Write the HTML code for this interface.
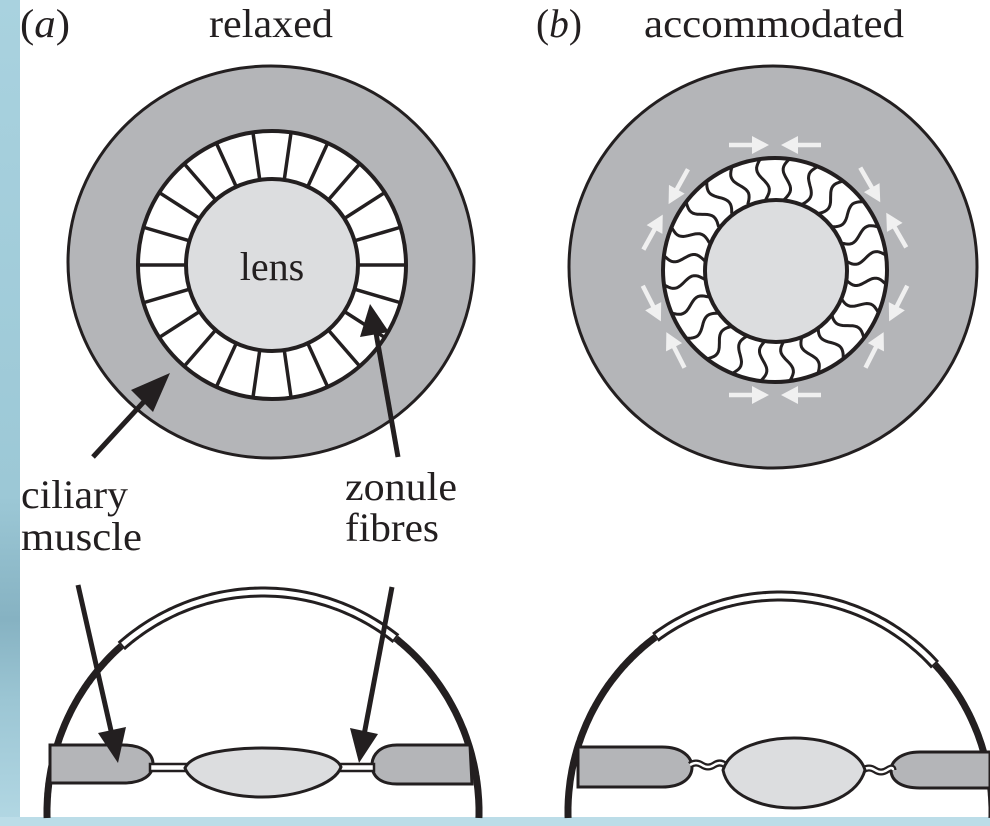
<!DOCTYPE html>
<html><head><meta charset="utf-8">
<style>
html,body{margin:0;padding:0;background:#fff;}
svg{display:block;}
text{font-family:"Liberation Serif",serif;fill:#231f20;}
</style></head>
<body>
<svg id="s" width="990" height="826" viewBox="0 0 990 826" xmlns="http://www.w3.org/2000/svg">
<defs>
<linearGradient id="lg" x1="0" y1="0" x2="0" y2="1">
<stop offset="0" stop-color="#a9d2df"/><stop offset="0.6" stop-color="#9cc8d6"/><stop offset="0.75" stop-color="#86b2c2"/><stop offset="0.85" stop-color="#9cc6d4"/><stop offset="1" stop-color="#b3d8e4"/>
</linearGradient>
</defs>
<rect x="0" y="0" width="990" height="826" fill="#fff"/>
<rect x="0" y="0" width="20" height="826" fill="url(#lg)"/>
<rect x="0" y="817" width="990" height="9" fill="#bcdde8"/>

<text x="20" y="37" font-size="40" textLength="50" lengthAdjust="spacingAndGlyphs">(<tspan font-style="italic">a</tspan>)</text>
<text x="209" y="37" font-size="40" textLength="124" lengthAdjust="spacingAndGlyphs">relaxed</text>
<text x="536" y="37" font-size="40" textLength="46" lengthAdjust="spacingAndGlyphs">(<tspan font-style="italic">b</tspan>)</text>
<text x="644" y="37" font-size="40" textLength="260" lengthAdjust="spacingAndGlyphs">accommodated</text>

<!-- panel a top -->
<ellipse cx="271" cy="262" rx="203" ry="196" fill="#b4b5b8" stroke="#231f20" stroke-width="3"/>
<circle cx="272" cy="265" r="134" fill="#fff" stroke="#231f20" stroke-width="4"/>
<g id="spokes"></g>
<circle cx="272" cy="265" r="86" fill="#dcdddf" stroke="#231f20" stroke-width="4"/>
<text x="272" y="280" font-size="40" text-anchor="middle">lens</text>

<!-- panel b top -->
<ellipse cx="773" cy="267" rx="204" ry="201" fill="#b4b5b8" stroke="#231f20" stroke-width="3"/>
<circle cx="775" cy="270" r="112" fill="#fff" stroke="#231f20" stroke-width="4"/>
<g id="waves"></g>
<circle cx="776" cy="271" r="71" fill="#dcdddf" stroke="#231f20" stroke-width="4"/>
<g id="warrows"></g>

<!-- arrows top a -->
<g stroke="#231f20" stroke-width="5" fill="#231f20">
<line x1="93" y1="457" x2="150" y2="395"/>
<polygon points="170,373 131,390 153,412" stroke="none"/>
<line x1="398" y1="457" x2="376" y2="333"/>
<polygon points="370,304 360,337 389,332" stroke="none"/>
</g>

<text x="21" y="508" font-size="40" textLength="107" lengthAdjust="spacingAndGlyphs">ciliary</text>
<text x="21" y="550" font-size="40" textLength="121" lengthAdjust="spacingAndGlyphs">muscle</text>
<text x="345" y="500" font-size="40" textLength="112" lengthAdjust="spacingAndGlyphs">zonule</text>
<text x="345" y="541" font-size="40" textLength="94" lengthAdjust="spacingAndGlyphs">fibres</text>

<!-- bottom a -->
<g id="domeA"></g>
<path d="M50,745 L123,745 C143,745 153,754 153,764 C153,775 143,783 123,783 L50,783 Z" fill="#b4b5b8" stroke="#231f20" stroke-width="3"/>
<path d="M470,745 L397,745 C380,745 372,755 372,765 C372,776 380,784 397,784 L472,784 Z" fill="#b4b5b8" stroke="#231f20" stroke-width="3"/>
<rect x="150" y="764" width="37" height="7" fill="#fff" stroke="#231f20" stroke-width="2.5"/>
<rect x="338" y="764" width="36" height="7" fill="#fff" stroke="#231f20" stroke-width="2.5"/>
<path d="M185,768 C192,752 235,748 262,748 C300,748 336,753 341,767 C335,785 295,797 262,797 C225,797 190,784 185,768 Z" fill="#dcdddf" stroke="#231f20" stroke-width="3"/>
<g stroke="#231f20" stroke-width="5" fill="#231f20">
<line x1="78" y1="585" x2="112" y2="735"/>
<polygon points="118,763 98,733 126,727" stroke="none"/>
<line x1="392" y1="587" x2="364" y2="735"/>
<polygon points="359,763 350,728 378,734" stroke="none"/>
</g>

<!-- bottom b -->
<g id="domeB"></g>
<path d="M578,747 L662,747 C682,747 692,757 692,767 C692,778 682,787 662,787 L578,787 Z" fill="#b4b5b8" stroke="#231f20" stroke-width="3"/>
<path d="M990,752 L920,752 C900,752 891,762 891,770 C891,780 900,788 920,788 L990,788 Z" fill="#b4b5b8" stroke="#231f20" stroke-width="3"/>
<path d="M690,765 q6,-4 12,0 t12,0 t11,0" fill="none" stroke="#231f20" stroke-width="7"/>
<path d="M690,765 q6,-4 12,0 t12,0 t11,0" fill="none" stroke="#fff" stroke-width="2.5"/>
<path d="M863,770 q6,-4 12,0 t12,0 t6,0" fill="none" stroke="#231f20" stroke-width="7"/>
<path d="M863,770 q6,-4 12,0 t12,0 t6,0" fill="none" stroke="#fff" stroke-width="2.5"/>
<path d="M723,770 C730,747 765,738 794,738 C830,738 860,752 865,770 C858,795 825,808 794,808 C760,808 728,795 723,770 Z" fill="#dcdddf" stroke="#231f20" stroke-width="3"/>
</svg>
<script>
var NS="http://www.w3.org/2000/svg";
function el(p,t,a){var e=document.createElementNS(NS,t);for(var k in a)e.setAttribute(k,a[k]);p.appendChild(e);return e;}
var g=document.getElementById("spokes");
for(var i=0;i<22;i++){var a=i*2*Math.PI/22;var c=Math.cos(a),s=Math.sin(a);
el(g,"line",{x1:272+86*c,y1:265+86*s,x2:272+134*c,y2:265+134*s,stroke:"#231f20","stroke-width":3.5});}
g=document.getElementById("waves");
for(var i=0;i<24;i++){var a=i*2*Math.PI/24+0.13;var c=Math.cos(a),s=Math.sin(a);var tx=-s,ty=c;var d="";
for(var j=0;j<=20;j++){var t=j/20;var r=71+41*t;var o=5*Math.sin(t*2*Math.PI);var x=775+r*c+o*tx,y=270+r*s+o*ty;d+=(j?"L":"M")+x.toFixed(1)+","+y.toFixed(1);}
el(g,"path",{d:d,fill:"none",stroke:"#231f20","stroke-width":3});}
g=document.getElementById("warrows");
var centers=[-90,90,-151,153,-30,27];
centers.forEach(function(cd){
var ca=cd*Math.PI/180;var R=125;var cx=775+R*Math.cos(ca),cy=270+R*Math.sin(ca);
var ux=-Math.sin(ca),uy=Math.cos(ca);
[-1,1].forEach(function(sg){
// arrow located at side sg, pointing toward center
var dx=-sg*ux,dy=-sg*uy;
var tipx=cx+sg*ux*6,tipy=cy+sg*uy*6;
var tailx=tipx-dx*40,taily=tipy-dy*40;
el(g,"line",{x1:tailx,y1:taily,x2:tipx-dx*12,y2:tipy-dy*12,stroke:"#f0f0f0","stroke-width":4.5});
var nx=-dy,ny=dx;
el(g,"polygon",{points:tipx+","+tipy+" "+(tipx-dx*17+nx*9)+","+(tipy-dy*17+ny*9)+" "+(tipx-dx*17-nx*9)+","+(tipy-dy*17-ny*9),fill:"#f0f0f0"});
});});
function dome(id,cx,cy,rx,ry,a0,a1,bot){var g=document.getElementById(id);
function arc(f,t){var d="";for(var j=0;j<=80;j++){var a=(f+(t-f)*j/80)*Math.PI/180;var x=cx+rx*Math.cos(a),y=cy-ry*Math.sin(a);d+=(j?"L":"M")+x.toFixed(1)+","+y.toFixed(1);}return d;}
var lo=Math.asin((cy-bot)/ry)*180/Math.PI;
el(g,"path",{d:arc(180-lo,a0),fill:"none",stroke:"#231f20","stroke-width":7});
el(g,"path",{d:arc(a1,lo),fill:"none",stroke:"#231f20","stroke-width":7});
el(g,"path",{d:arc(a0,a1),fill:"none",stroke:"#231f20","stroke-width":11});
el(g,"path",{d:arc(a0-0.5,a1+0.5),fill:"none",stroke:"#fff","stroke-width":5});
}
dome("domeA",263,812,216,220,131,52,818);
dome("domeB",780,812,212,216,126,43,818);
</script>
</body></html>
